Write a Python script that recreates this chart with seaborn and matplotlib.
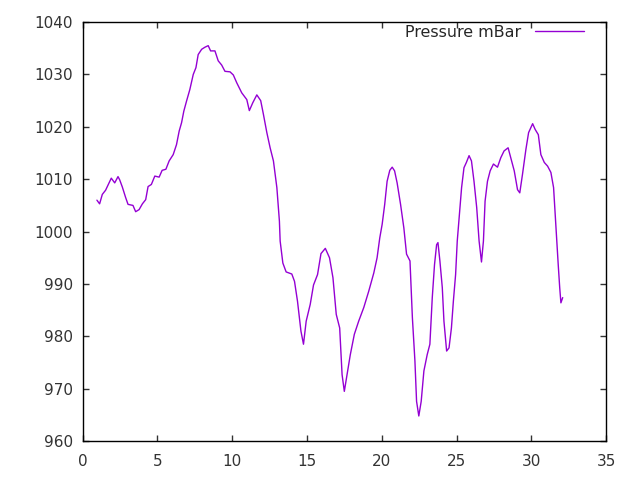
"""
Pressure log - recreated gnuplot style line chart with seaborn.
"""
import pandas as pd
import matplotlib
matplotlib.use("Agg")
import matplotlib.pyplot as plt
import seaborn as sns

# Readings (days, mBar)
days = [0.96, 1.14, 1.32, 1.54, 1.77, 1.92, 2.15, 2.37, 2.48, 2.66, 2.88, 3.04,
        3.37, 3.55, 3.78, 4.00, 4.22, 4.38, 4.60, 4.83, 5.12, 5.32, 5.57, 5.79,
        6.06, 6.28, 6.46, 6.62, 6.77, 6.95, 7.17, 7.40, 7.58, 7.73, 7.96, 8.18,
        8.40, 8.56, 8.85, 9.07, 9.30, 9.52, 9.86, 10.08, 10.31, 10.64, 10.98,
        11.15, 11.38, 11.65, 11.91, 12.09, 12.32, 12.54, 12.76, 12.99, 13.16,
        13.21, 13.39, 13.61, 13.99, 14.17, 14.37, 14.60, 14.77, 14.95, 15.22,
        15.44, 15.71, 15.94, 16.23, 16.51, 16.74, 16.96, 17.19, 17.35, 17.50,
        17.68, 17.90, 18.17, 18.46, 18.80, 19.13, 19.47, 19.69, 19.87, 20.03,
        20.20, 20.36, 20.54, 20.70, 20.86, 21.03, 21.26, 21.48, 21.66, 21.89,
        22.05, 22.22, 22.33, 22.48, 22.64, 22.82, 23.04, 23.22, 23.38, 23.53,
        23.67, 23.76, 23.89, 24.05, 24.16, 24.34, 24.50, 24.66, 24.79, 24.94,
        25.05, 25.21, 25.34, 25.50, 25.66, 25.84, 26.00, 26.17, 26.35, 26.51,
        26.67, 26.80, 26.91, 27.07, 27.25, 27.47, 27.74, 27.96, 28.18, 28.45,
        28.63, 28.86, 29.08, 29.23, 29.41, 29.64, 29.82, 30.09, 30.26, 30.47,
        30.64, 30.87, 31.09, 31.31, 31.49, 31.65, 31.80, 31.90, 31.98, 32.10]
pressure = [1006.0, 1005.3, 1007.1, 1007.9, 1009.3, 1010.2, 1009.3, 1010.5,
            1009.9, 1008.5, 1006.5, 1005.2, 1005.0, 1003.8, 1004.2, 1005.3,
            1006.1, 1008.6, 1009.0, 1010.6, 1010.4, 1011.7, 1011.9, 1013.5,
            1014.7, 1016.6, 1019.2, 1020.8, 1023.0, 1024.9, 1027.1, 1030.0,
            1031.3, 1033.8, 1034.8, 1035.2, 1035.5, 1034.5, 1034.5, 1032.6,
            1031.8, 1030.6, 1030.5, 1029.9, 1028.4, 1026.5, 1025.2, 1023.1,
            1024.6, 1026.1, 1025.0, 1022.4, 1018.9, 1016.0, 1013.5, 1008.4,
            1002.0, 998.2, 994.0, 992.3, 991.9, 990.5, 986.7, 981.0, 978.5,
            982.9, 986.1, 989.8, 991.8, 995.8, 996.8, 995.0, 991.2, 984.2,
            981.6, 972.7, 969.5, 972.7, 976.5, 980.4, 982.9, 985.5, 988.6,
            992.1, 995.0, 998.8, 1001.4, 1005.2, 1009.6, 1011.7, 1012.3,
            1011.6, 1009.3, 1005.2, 1000.7, 995.7, 994.4, 983.6, 975.3, 967.6,
            964.8, 967.6, 973.4, 976.5, 978.5, 987.4, 993.7, 997.5, 997.9,
            994.4, 989.3, 982.9, 977.2, 977.8, 981.6, 986.7, 991.8, 998.2,
            1003.9, 1008.4, 1012.2, 1013.2, 1014.5, 1013.5, 1009.6, 1004.6,
            998.2, 994.2, 998.2, 1005.8, 1009.6, 1011.6, 1012.9, 1012.3,
            1014.1, 1015.4, 1016.0, 1014.1, 1011.6, 1008.0, 1007.4, 1010.9,
            1015.7, 1018.9, 1020.6, 1019.5, 1018.5, 1014.7, 1013.2, 1012.5,
            1011.3, 1008.4, 1000.7, 993.7, 989.3, 986.4, 987.4]

x_ticks = [0, 5, 10, 15, 20, 25, 30, 35]
y_ticks = [960, 970, 980, 990, 1000, 1010, 1020, 1030, 1040]

df = pd.DataFrame({"day": days, "Pressure mBar": pressure})

sns.set_style("ticks")
plt.rcParams["font.family"] = ["DejaVu Sans"]

fig = plt.figure(figsize=(6.4, 4.8), dpi=100)
ax = fig.add_axes([0.129, 0.081, 0.818, 0.873])

sns.lineplot(data=df, x="day", y="Pressure mBar", color="#9400D3", lw=1,
             estimator=None, sort=False, label="Pressure mBar", ax=ax)

ax.set_xlim(0, 35)
ax.set_ylim(960, 1040)
ax.set_xticks(x_ticks)
ax.set_yticks(y_ticks)
ax.set_xlabel("")
ax.set_ylabel("")
for s in ax.spines.values():
    s.set_visible(True)
    s.set_linewidth(1)
    s.set_color("black")
ax.tick_params(direction="in", length=4, width=1, top=True, right=True,
               labelsize=11, colors="#333333", pad=7)
ax.tick_params(axis="x", pad=9)

# gnuplot style key: text first, sample line after it
leg = ax.legend(loc="upper right", bbox_to_anchor=(0.958, 0.994),
                frameon=False, markerfirst=False, fontsize=11.4,
                handlelength=3.1, handletextpad=0.9,
                borderaxespad=0, borderpad=0)

fig.savefig("out.png", dpi=100)
